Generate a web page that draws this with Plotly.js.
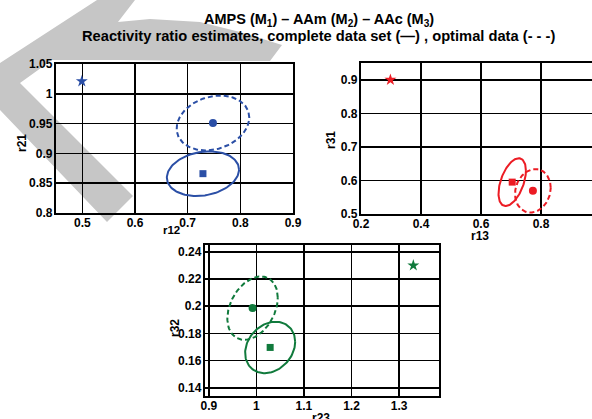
<!DOCTYPE html>
<html>
<head>
<meta charset="utf-8">
<script src="https://cdn.plot.ly/plotly-3.0.1.min.js"></script>
<style>
html,body{margin:0;padding:0;background:#fff;overflow:hidden;width:592px;height:419px;}
#chart{width:610px;height:419px;}
</style>
</head>
<body>
<div id="chart"></div>
<script>
// ---- data ----
// panel order: [r12 vs r21 (blue), r13 vs r31 (red), r23 vs r32 (green)]
const panelColors = ['#2B4FA6', '#EC1C24', '#107A3C'];
const starX = [0.499, 0.298, 1.330];      // initial guesses
const starY = [1.021, 0.900, 0.230];
const completeX = [0.729, 0.704, 1.029];  // complete data set estimate (square)
const completeY = [0.866, 0.595, 0.1697];
const optimalX = [0.748, 0.773, 0.992];   // optimal data estimate (circle)
const optimalY = [0.951, 0.569, 0.1986];
// joint confidence region extents (half widths) and correlation
const completeHalfX = [0.0685, 0.0457, 0.0526];
const completeHalfY = [0.0375, 0.0712, 0.0189];
const completeRho   = [0.18, 0.48, 0.22];
const optimalHalfX  = [0.069, 0.0595, 0.053];
const optimalHalfY  = [0.046, 0.0648, 0.0233];
const optimalRho    = [0.20, 0.14, 0.33];

const W = 610, H = 419;
const FONT = 'Liberation Sans, Arial, Helvetica, sans-serif';
const axNames = [['x','y'],['x2','y2'],['x3','y3']];

function ellipse(cx, cy, hx, hy, rho) {
  const xs = [], ys = [], n = 120, s = Math.sqrt(1 - rho * rho);
  for (let i = 0; i <= n; i++) {
    const t = 2 * Math.PI * i / n;
    xs.push(cx + hx * Math.cos(t));
    ys.push(cy + hy * (rho * Math.cos(t) + s * Math.sin(t)));
  }
  return {xs, ys};
}

const traces = [];
for (let p = 0; p < 3; p++) {
  const [xa, ya] = axNames[p];
  const c = panelColors[p];
  const e1 = ellipse(completeX[p], completeY[p], completeHalfX[p], completeHalfY[p], completeRho[p]);
  const e2 = ellipse(optimalX[p], optimalY[p], optimalHalfX[p], optimalHalfY[p], optimalRho[p]);
  traces.push({x: e1.xs, y: e1.ys, xaxis: xa, yaxis: ya, mode: 'lines', line: {color: c, width: 2}, hoverinfo: 'skip'});
  traces.push({x: e2.xs, y: e2.ys, xaxis: xa, yaxis: ya, mode: 'lines', line: {color: c, width: 2, dash: '5px,3px'}, hoverinfo: 'skip'});
  traces.push({x: [starX[p]], y: [starY[p]], xaxis: xa, yaxis: ya, mode: 'markers', marker: {symbol: 'star', size: 9, color: c}});
  traces.push({x: [completeX[p]], y: [completeY[p]], xaxis: xa, yaxis: ya, mode: 'markers', marker: {symbol: 'square', size: 7, color: c}});
  traces.push({x: [optimalX[p]], y: [optimalY[p]], xaxis: xa, yaxis: ya, mode: 'markers', marker: {symbol: 'circle', size: 8, color: c}});
}

function px(x) { return x / W; }
function py(y) { return 1 - y / H; }

function axis(anchor, domain, range, tick0, dtick, standoff) {
  return {
    anchor: anchor,
    domain: domain, range: range, tick0: tick0, dtick: dtick,
    showgrid: true, gridcolor: '#000', gridwidth: 1.5,
    showline: true, linecolor: '#000', linewidth: 2.2, mirror: true,
    zeroline: false, ticks: '', ticklen: 0,
    ticklabelstandoff: standoff,
    tickprefix: '<b>', ticksuffix: '</b>',
    tickfont: {family: FONT, size: 12, color: '#000', weight: 'bold'},
    fixedrange: true
  };
}

// background watermark stroke (pixel outline)
const wm = [[97,0],[135,0],[118,22],[150,19],[200,22],[240,32],[282,45],[270,61],[200,61],[120,60],[52,60],[20,83],[133,196],[107,222],[0,110],[0,63]];
const wmPath = 'M' + wm.map(q => px(q[0]).toFixed(5) + ',' + py(q[1]).toFixed(5)).join(' L') + ' Z';

function ann(text, x, y, size, opts) {
  return Object.assign({text: '<b>' + text + '</b>', x: px(x), y: py(y), xref: 'paper', yref: 'paper',
    xanchor: 'center', yanchor: 'middle', showarrow: false, borderpad: 0,
    font: {family: FONT, size: size, color: '#000', weight: 'bold'}}, opts || {});
}

const layout = {
  width: W, height: H,
  margin: {l: 0, r: 0, t: 0, b: 0},
  paper_bgcolor: '#fff', plot_bgcolor: 'rgba(0,0,0,0)',
  showlegend: false,
  xaxis:  axis('y',  [px(56), px(293)], [0.45 - 1e-6, 0.9 + 1e-6], 0.5, 0.1, -3),
  yaxis:  axis('x',  [py(213), py(64)], [0.8 - 1e-6, 1.05 + 1e-6], 0.8, 0.05, -1),
  xaxis2: axis('y2', [px(361), px(601)], [0.2 - 1e-6, 1.0 + 1e-6], 0.2, 0.2, -3),
  yaxis2: axis('x2', [py(214), py(63)], [0.5 - 1e-6, 0.95], 0.5, 0.1, -1),
  xaxis3: axis('y3', [px(205), px(439)], [0.892, 1.384], 0.9, 0.1, -3),
  yaxis3: axis('x3', [py(396), py(245)], [0.134, 0.245], 0.14, 0.02, -1),
  shapes: [{type: 'path', xref: 'paper', yref: 'paper', path: wmPath,
            fillcolor: '#c6c6c6', line: {width: 0}, layer: 'below'}],
  annotations: [
    ann('AMPS (M<sub>1</sub>) – AAm (M<sub>2</sub>) – AAc (M<sub>3</sub>)', 319, 20.5, 14.5),
    ann('Reactivity ratio estimates, complete data set (—) , optimal data (- - -)', 318.5, 36.5, 14.7),
    ann('r12', 171, 229.5, 11.5),
    ann('r21', 22, 143, 12, {textangle: -90}),
    ann('r13', 480, 236, 12),
    ann('r31', 331, 140, 12, {textangle: -90}),
    ann('r23', 321, 418, 12),
    ann('r32', 175, 328, 12, {textangle: -90})
  ]
};

Plotly.newPlot('chart', traces, layout, {staticPlot: true, displayModeBar: false});
</script>
</body>
</html>
